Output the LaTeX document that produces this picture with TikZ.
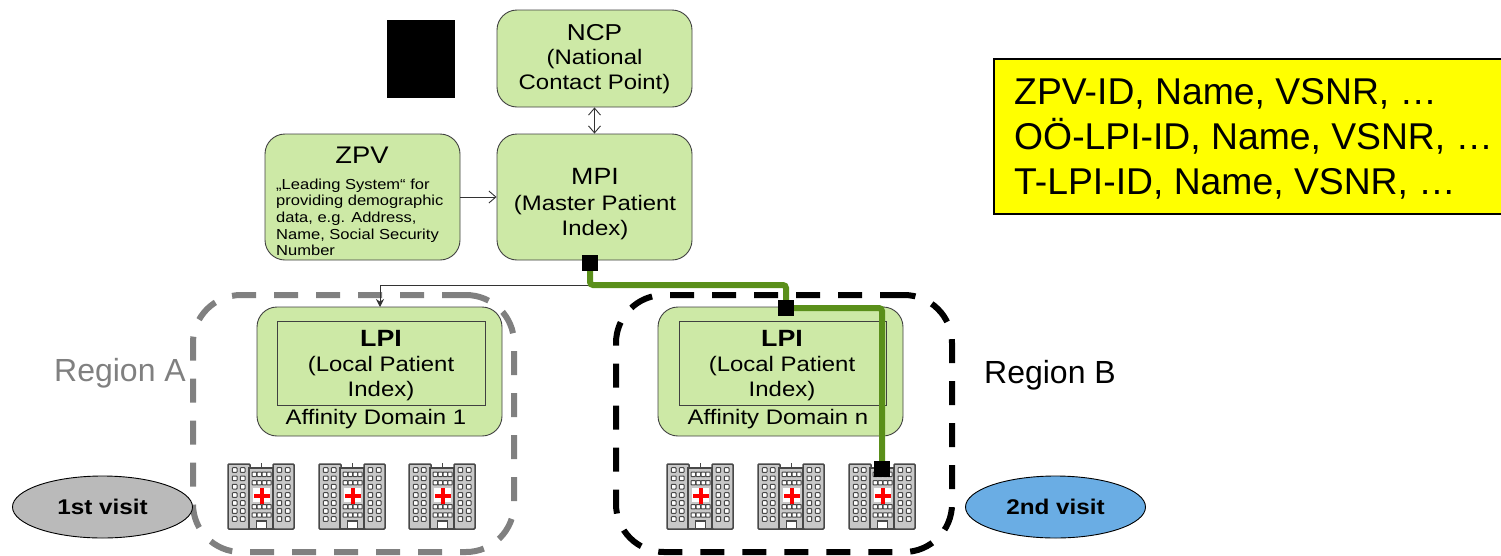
\documentclass[tikz,border=0pt]{standalone}
\usepackage{fontspec}
\setmainfont{Liberation Sans}
\newfontfamily\widefont[FakeStretch=1.14]{Liberation Sans}
\usetikzlibrary{shapes.geometric,arrows.meta}
\definecolor{boxgreen}{HTML}{CDE9A6}
\definecolor{pathgreen}{HTML}{5A8F1A}
\definecolor{winggray}{HTML}{C8C8C8}
\definecolor{linegray}{HTML}{484848}
\definecolor{visitblue}{HTML}{6AADE4}
\definecolor{notebox}{HTML}{FFFF00}
\tikzset{
  greenbox/.style={draw=black!75, fill=boxgreen, rounded corners=20pt, line width=0.9pt, inner sep=0pt},
  boxtext/.style={align=center, font=\widefont\fontsize{21}{24.5}\selectfont},
  innerbox/.style={draw=black!75, line width=0.9pt, minimum width=208pt, minimum height=84pt, inner sep=0pt},
  regionbox/.style={dashed, dash pattern=on 24pt off 18pt, line width=6pt, rounded corners=48pt, inner sep=0pt},
  marksquare/.style={fill=black, minimum size=16pt, inner sep=0pt},
  visit/.style={draw=black, ellipse, line width=0.9pt, minimum width=180pt, minimum height=62pt, inner sep=0pt, font=\widefont\fontsize{21.3}{24}\selectfont\bfseries},
  thinline/.style={draw=black!80, line width=0.9pt},
  greenline/.style={draw=pathgreen, line width=6pt, rounded corners=3pt},
  hospital/.pic={
    \draw[linegray, line width=1pt] (33,0) -- (33,5);
    \draw[linegray, fill=winggray, line width=1.5pt, rounded corners=1pt] (0,1) rectangle (22,66);
    \draw[linegray, fill=winggray, line width=1.5pt, rounded corners=1pt] (45,1) rectangle (66,66);
    \draw[linegray, fill=winggray, line width=1.5pt] (21,5) rectangle (45,66);
    \foreach \c in {6.7,14.7,51.3,59.7}
      \foreach \r in {7,15.3,23.7,32,40,48,56}
        \draw[linegray, fill=white, line width=1pt, rounded corners=0.6pt] (\c-2.3,\r-2.3) rectangle (\c+2.3,\r+2.3);
    \foreach \c in {26.3,31.3,36.3,41}
      \foreach \r in {11.3,19.7,43.7,52}
        \draw[linegray, fill=white, line width=1pt, rounded corners=0.6pt] (\c-2.2,\r-2.2) rectangle (\c+2.2,\r+2.2);
    \fill[white] (25,25) rectangle (42,39);
    \fill[red] (31.5,24.5) rectangle (35.5,40.5);
    \fill[red] (25.5,30.5) rectangle (41.5,34.5);
    \draw[linegray, fill=white, line width=1.2pt] (28.5,58) rectangle (38.5,66);
  }
}
\begin{document}
\begin{tikzpicture}[x=1pt, y=-1pt, >={Straight Barb[length=7pt,width=12pt]}]
    \useasboundingbox (0,0) rectangle (1501,555);

    \fill[black] (387,20) rectangle (455,98);

    \node[greenbox, minimum width=195pt, minimum height=97pt] (ncp) at (594.5,58.5) {};
    \node[boxtext] (ncptext) at (594.5,59) {{\fontsize{23}{24.5}\selectfont NCP}\\(National\\Contact Point)};
    \node[greenbox, minimum width=195pt, minimum height=126pt] (mpi) at (594.5,197) {};
    \node[boxtext, font=\widefont\fontsize{21}{25.5}\selectfont] (mpitext) at (595,204.5) {{\fontsize{23.5}{25.5}\selectfont MPI}\\(Master Patient\\Index)};
    \node[greenbox, minimum width=195pt, minimum height=126pt] (zpv) at (362.5,197) {};
    \node[font=\widefont\fontsize{24}{26}\selectfont] (zpvtitle) at (362,155) {ZPV};
    \node[anchor=north west, align=left, inner sep=0pt, font=\widefont\fontsize{14.5}{16.6}\selectfont] (zpvtext) at (276,178.5) {„Leading System“ for\\providing demographic\\data, e.g. Address,\\Name, Social Security\\Number};

    % regions
    \node[regionbox, draw=black!50, minimum width=321pt, minimum height=257pt] (regionA) at (353.5,423.5) {};
    \node[regionbox, draw=black, minimum width=336pt, minimum height=257pt] (regionB) at (784,423.5) {};
    \node[text=black!50, font=\fontsize{32}{36}\selectfont] (labelA) at (120,373) {Region A};
    \node[font=\fontsize{32}{36}\selectfont] (labelB) at (1050,375) {Region B};

    \begin{scope}
      \node[greenbox, minimum width=245pt, minimum height=129pt] (domainA) at (379.5,371.5) {};
      \node[innerbox] (lpiA) at (381,363) {};
      \node[boxtext, font=\widefont\fontsize{21}{25}\selectfont] (lpiAtext) at (381,365.5) {\fontsize{23.5}{25}\selectfont\textbf{LPI}\\(Local Patient\\Index)};
      \node[boxtext] (domainAtext) at (376,419.5) {Affinity Domain 1};
      \pic at (228,463) {hospital};
      \pic at (319,463) {hospital};
      \pic at (409,463) {hospital};
    \end{scope}

    \begin{scope}
      \node[greenbox, minimum width=245pt, minimum height=129pt] (domainB) at (780.5,371.5) {};
      \node[innerbox, minimum width=207pt] (lpiB) at (782.5,363) {};
      \node[boxtext, font=\widefont\fontsize{21}{25}\selectfont] (lpiBtext) at (782,365.5) {\fontsize{23.5}{25}\selectfont\textbf{LPI}\\(Local Patient\\Index)};
      \node[boxtext] (domainBtext) at (778,419.5) {Affinity Domain n};
      \pic at (667,463) {hospital};
      \pic at (758,463) {hospital};
      \pic at (849,463) {hospital};
    \end{scope}

    \node[visit, fill=black!27] (firstvisit) at (102.5,507) {1st visit};
    \node[visit, fill=visitblue] (secondvisit) at (1055.5,507) {2nd visit};

    \node[draw=black, fill=notebox, line width=1.8pt, minimum width=510pt, minimum height=155pt, anchor=north west, inner sep=0pt] (idbox) at (993,58) {};
    \node[anchor=west, align=left, inner sep=0pt, font=\fontsize{37.3}{45}\selectfont] (idtext) at (1014,139) {ZPV-ID, Name, VSNR, …\\OÖ-LPI-ID, Name, VSNR, …\\T-LPI-ID, Name, VSNR, …};

    \node[marksquare] (markmpi) at (590,263) {};
    \node[marksquare] (marklpi) at (786,308) {};
    \node[marksquare] (markhospital) at (882,469) {};
    \coordinate (bendmpi) at (590,285);
    \coordinate (droplpi) at (380,307);

    % connectors
    \draw[thinline, <->] (ncp) -- (mpi);
    \draw[thinline, ->] (zpv) -- (mpi);
    \draw[thinline, -{Stealth[length=8pt,width=8pt]}] (bendmpi) -| (droplpi);
    \draw[thinline, black!50] (bendmpi) -| (marklpi);
    \draw[greenline] (markmpi) -- (bendmpi) -| (marklpi);
    \draw[greenline] (marklpi) -| (markhospital);
\end{tikzpicture}
\end{document}
